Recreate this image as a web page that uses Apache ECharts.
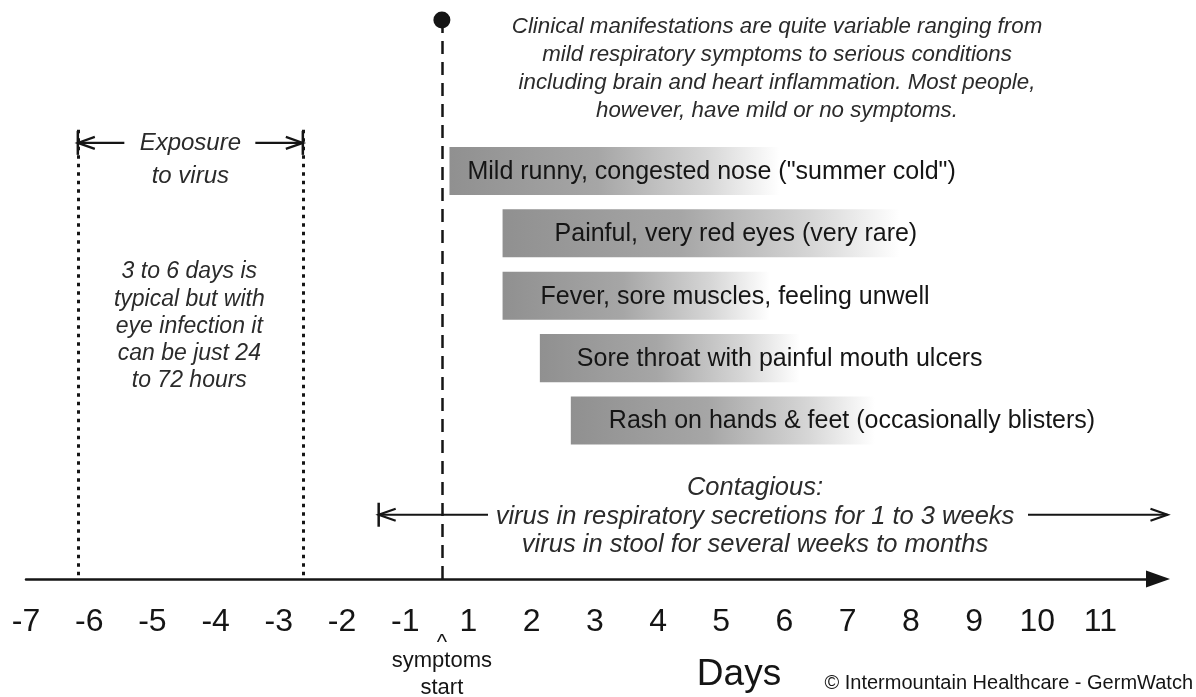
<!DOCTYPE html>
<html>
<head>
<meta charset="utf-8">
<script src="https://cdn.jsdelivr.net/npm/echarts@6/dist/echarts.min.js"></script>
<style>
  html, body { margin: 0; background: #fff; }
  #chart { width: 1196px; height: 697px; }
</style>
</head>
<body>
<div id="chart"></div>
<script>
// x axis: one unit per printed day label; there is no "0" label,
// so axis value v is labelled DAY_TICKS[v + 7]
const DAY_TICKS = [-7, -6, -5, -4, -3, -2, -1, 1, 2, 3, 4, 5, 6, 7, 8, 9, 10, 11];

const SYMPTOMS = [
  'Mild runny, congested nose ("summer cold")',
  'Painful, very red eyes (very rare)',
  'Fever, sore muscles, feeling unwell',
  'Sore throat with painful mouth ulcers',
  'Rash on hands & feet (occasionally blisters)'
];
const SYMPTOM_START = [-0.30, 0.54, 0.54, 1.13, 1.62];
const SYMPTOM_END = [4.92, 6.82, 4.77, 5.24, 6.43];

const ONSET = -0.42;              // symptoms start
const EXPOSURE = [-6.18, -2.62];  // exposure window
const CONTAGIOUS = [-1.42, 11.06];

// y axis in row units (row 0 = first symptom bar)
const Y_MIN = -2.74, Y_MAX = 6.54;
const DOT_Y = -2.42, EXPO_TOP = -0.66, EXPO_ARROW_Y = -0.45, CONTAG_Y = 5.51;

// text padding inside each bar (px)
const LABEL_INSET = [18, 52, 38, 37, 38];

const INK = '#151515';
const SOFT = '#2b2b2b';
const FONT = '"Liberation Sans", Arial, Helvetica, sans-serif';

const chart = echarts.init(document.getElementById('chart'));

const barFill = new echarts.graphic.LinearGradient(0, 0, 1, 0, [
  { offset: 0, color: '#909090' },
  { offset: 0.45, color: '#a6a6a6' },
  { offset: 0.78, color: '#d6d6d6' },
  { offset: 1, color: '#ffffff' }
]);

chart.setOption({
  animation: false,
  grid: { left: 26, right: 38, top: 0, bottom: 118 },
  xAxis: {
    type: 'value', min: -7, max: 10.91,
    axisLine: {
      onZero: false, symbol: ['none', 'triangle'], symbolSize: [17, 24],
      lineStyle: { color: INK, width: 2.5 }
    },
    axisTick: { show: false },
    splitLine: { show: false },
    axisLabel: {
      customValues: DAY_TICKS.map((d, i) => i - 7),
      formatter: v => String(DAY_TICKS[Math.round(v) + 7]),
      fontFamily: FONT, fontSize: 32, color: INK, margin: 27
    }
  },
  yAxis: { type: 'value', inverse: true, min: Y_MIN, max: Y_MAX, show: false },
  series: [
    {
      type: 'custom',
      data: SYMPTOMS.map((n, i) => [SYMPTOM_START[i], SYMPTOM_END[i], i]),
      renderItem(params, api) {
        const i = params.dataIndex;
        const s = api.coord([api.value(0), api.value(2)]);
        const e = api.coord([api.value(1), api.value(2)]);
        const h = api.size([0, 1])[1] * 0.77;
        return {
          type: 'group',
          children: [
            { type: 'rect', shape: { x: s[0], y: s[1] - h / 2, width: e[0] - s[0], height: h },
              style: { fill: barFill } },
            { type: 'text', x: s[0] + LABEL_INSET[i], y: s[1] + 1,
              style: { text: SYMPTOMS[i], font: '25px ' + FONT, fill: INK, verticalAlign: 'middle' } }
          ]
        };
      }
    },
    {
      type: 'line', data: [],
      markLine: {
        silent: true, animation: false, symbol: 'none', label: { show: false },
        itemStyle: { color: INK },
        data: [
          [{ coord: [ONSET, DOT_Y], symbol: 'circle', symbolSize: 17,
             lineStyle: { color: INK, width: 2.5, type: [13, 8] } },
           { coord: [ONSET, Y_MAX] }],
          [{ coord: [EXPOSURE[0], EXPO_TOP], lineStyle: { color: INK, width: 3, type: [3.5, 5] } },
           { coord: [EXPOSURE[0], Y_MAX] }],
          [{ coord: [EXPOSURE[1], EXPO_TOP], lineStyle: { color: INK, width: 3, type: [3.5, 5] } },
           { coord: [EXPOSURE[1], Y_MAX] }]
        ]
      }
    }
  ]
});

const px = (x, y) => chart.convertToPixel({ gridIndex: 0 }, [x, y]);

// open arrow head at (x, y) pointing in dir (+1 right, -1 left), optional end bar
function arrowEnd(x, y, dir, bar) {
  const out = [{
    type: 'polyline', shape: { points: [[x - dir * 17, y - 6], [x, y], [x - dir * 17, y + 6]] },
    style: { stroke: INK, lineWidth: 2.2, fill: null }
  }];
  if (bar) out.push({ type: 'line', shape: { x1: x, y1: y - 12, x2: x, y2: y + 12 },
    style: { stroke: INK, lineWidth: 2.5 } });
  return out;
}
function hline(x1, x2, y) {
  return { type: 'line', shape: { x1, y1: y, x2, y2: y }, style: { stroke: INK, lineWidth: 2.2 } };
}
function label(text, x, y, size, opts) {
  return { type: 'text', x, y, style: Object.assign({
    text, font: size + 'px ' + FONT, fill: INK, align: 'center', verticalAlign: 'middle'
  }, opts || {}) };
}

const ex0 = px(EXPOSURE[0], EXPO_ARROW_Y), ex1 = px(EXPOSURE[1], EXPO_ARROW_Y);
const exMid = (ex0[0] + ex1[0]) / 2;
const c0 = px(CONTAGIOUS[0], CONTAG_Y), c1 = px(CONTAGIOUS[1], CONTAG_Y);
const cMid = 755;
const on = px(ONSET, Y_MAX);

const g = [];
// exposure
g.push(hline(ex0[0], exMid - 66, ex0[1]), ...arrowEnd(ex0[0], ex0[1], -1, true));
g.push(hline(exMid + 65, ex1[0], ex1[1]), ...arrowEnd(ex1[0], ex1[1], 1, true));
g.push(label('Exposure\nto virus', exMid, ex0[1] + 16.5, 24,
  { font: 'italic 24px ' + FONT, lineHeight: 33, fill: SOFT }));
g.push(label('3 to 6 days is\ntypical but with\neye infection it\ncan be just 24\nto 72 hours', exMid - 1, 326.5, 23,
  { font: 'italic 23px ' + FONT, lineHeight: 27.3, fill: SOFT }));
// contagious
g.push(hline(c0[0], cMid - 267, c0[1]), ...arrowEnd(c0[0], c0[1], -1, true));
g.push(hline(cMid + 273, c1[0], c1[1]), ...arrowEnd(c1[0], c1[1], 1, false));
g.push(label('Contagious:\nvirus in respiratory secretions for 1 to 3 weeks\nvirus in stool for several weeks to months',
  cMid, 516.5, 25.5, { font: 'italic 25.5px ' + FONT, lineHeight: 28.5, fill: SOFT }));
// clinical note
g.push(label('Clinical manifestations are quite variable ranging from\nmild respiratory symptoms to serious conditions\nincluding brain and heart inflammation. Most people,\nhowever, have mild or no symptoms.',
  777, 69, 22.3, { font: 'italic 22.3px ' + FONT, lineHeight: 28, fill: SOFT }));
// onset marker text
g.push(label('^', on[0], 643, 22));
g.push(label('symptoms', on[0], 661, 22));
g.push(label('start', on[0], 688, 22));
// axis name and credit
g.push(label('Days', 739, 675, 37));
g.push(label('\u00a9 Intermountain Healthcare - GermWatch', 1193, 683, 20, { align: 'right' }));

chart.setOption({ graphic: { elements: g } });
</script>
</body>
</html>
